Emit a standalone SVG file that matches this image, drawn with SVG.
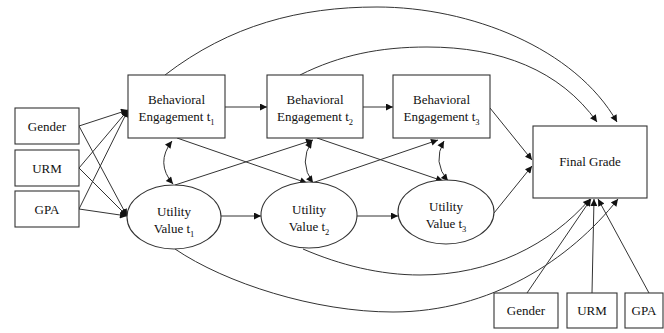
<svg xmlns="http://www.w3.org/2000/svg" width="664" height="333" viewBox="0 0 664 333">
<style>
.box{fill:#fff;stroke:#333;stroke-width:1.1}
.t{font-family:"Liberation Serif","Times New Roman",serif;font-size:13px;fill:#111;text-anchor:middle}
.s{font-size:8.5px}
.c{fill:none;stroke:#333;stroke-width:1}
.a{marker-end:url(#ah)}
.d{marker-start:url(#ah);marker-end:url(#ah)}
</style>
<defs>
<marker id="ah" viewBox="0 0 10 10" refX="10" refY="5" markerWidth="9" markerHeight="7" markerUnits="userSpaceOnUse" orient="auto-start-reverse">
<path d="M0,0 L10,5 L0,10 Z" fill="#111"/>
</marker>
</defs>
<rect width="664" height="333" fill="#fff"/>
<g id="connectors">
<!-- covariates to BE1 and UV1 -->
<line class="c a" x1="79" y1="126" x2="128" y2="110"/>
<line class="c a" x1="79" y1="168" x2="128" y2="110"/>
<line class="c a" x1="79" y1="209" x2="128" y2="110"/>
<line class="c a" x1="79" y1="126" x2="127" y2="216"/>
<line class="c a" x1="79" y1="168" x2="127" y2="216"/>
<line class="c a" x1="79" y1="209" x2="127" y2="216"/>
<!-- horizontal -->
<line class="c a" x1="225" y1="107" x2="267" y2="107"/>
<line class="c a" x1="363" y1="107" x2="393" y2="107"/>
<line class="c a" x1="221" y1="216" x2="261" y2="216"/>
<line class="c a" x1="357" y1="216" x2="398" y2="216"/>
<!-- cross-lagged -->
<line class="c a" x1="177" y1="138" x2="307" y2="183"/>
<line class="c a" x1="175" y1="185" x2="313" y2="140"/>
<line class="c a" x1="317" y1="138" x2="443" y2="181"/>
<line class="c a" x1="312" y1="183" x2="438" y2="140"/>
<!-- covariances -->
<path class="c d" d="M172,141 Q155,163 173,184"/>
<path class="c d" d="M312,141 Q298,162 313,183"/>
<path class="c d" d="M444,141 Q432,162 448,181"/>
<!-- to Final Grade -->
<line class="c a" x1="490" y1="108" x2="532" y2="160"/>
<line class="c a" x1="494" y1="213" x2="532" y2="166"/>
<path class="c a" d="M165,75 C230,25 300,7 377,7 C470,7 575,48 617,122"/>
<path class="c a" d="M300,75 C340,55 380,47 427,47 C500,47 560,70 597,122"/>
<path class="c a" d="M303,249 C340,265 380,275 420,275 C490,275 550,245 590,199"/>
<path class="c a" d="M175,249 C225,283 315,312 393,312 C490,312 570,260 618,199"/>
<line class="c a" x1="527" y1="293" x2="591" y2="199"/>
<line class="c a" x1="592" y1="293" x2="594" y2="199"/>
<line class="c a" x1="649" y1="293" x2="598" y2="199"/>
</g>
<g id="gender1"><rect class="box" x="15" y="108" width="64" height="36"/><text class="t" x="47" y="131">Gender</text></g>
<g id="urm1"><rect class="box" x="15" y="150" width="64" height="36"/><text class="t" x="47" y="173">URM</text></g>
<g id="gpa1"><rect class="box" x="15" y="191" width="64" height="36"/><text class="t" x="47" y="214">GPA</text></g>
<g id="be1"><rect class="box" x="128" y="75" width="97" height="63"/><text class="t" x="176.5" y="104">Behavioral</text><text class="t" x="176.5" y="121">Engagement t<tspan class="s" dy="4">1</tspan></text></g>
<g id="be2"><rect class="box" x="267" y="75" width="96" height="63"/><text class="t" x="315" y="104">Behavioral</text><text class="t" x="315" y="121">Engagement t<tspan class="s" dy="4">2</tspan></text></g>
<g id="be3"><rect class="box" x="393" y="75" width="97" height="63"/><text class="t" x="441.5" y="104">Behavioral</text><text class="t" x="441.5" y="121">Engagement t<tspan class="s" dy="4">3</tspan></text></g>
<g id="uv1"><ellipse class="box" cx="174" cy="217" rx="47" ry="32"/><text class="t" x="174" y="216">Utility</text><text class="t" x="174" y="233">Value t<tspan class="s" dy="4">1</tspan></text></g>
<g id="uv2"><ellipse class="box" cx="309" cy="215" rx="48" ry="33"/><text class="t" x="309" y="214">Utility</text><text class="t" x="309" y="231">Value t<tspan class="s" dy="4">2</tspan></text></g>
<g id="uv3"><ellipse class="box" cx="446" cy="212" rx="48" ry="32"/><text class="t" x="446" y="211">Utility</text><text class="t" x="446" y="228">Value t<tspan class="s" dy="4">3</tspan></text></g>
<g id="final"><rect class="box" x="533" y="126" width="114" height="72"/><text class="t" x="590" y="166">Final Grade</text></g>
<g id="gender2"><rect class="box" x="494" y="293" width="64" height="35"/><text class="t" x="526" y="315">Gender</text></g>
<g id="urm2"><rect class="box" x="567" y="293" width="50" height="35"/><text class="t" x="592" y="315">URM</text></g>
<g id="gpa2"><rect class="box" x="625" y="293" width="38" height="35"/><text class="t" x="644" y="315">GPA</text></g>
</svg>
